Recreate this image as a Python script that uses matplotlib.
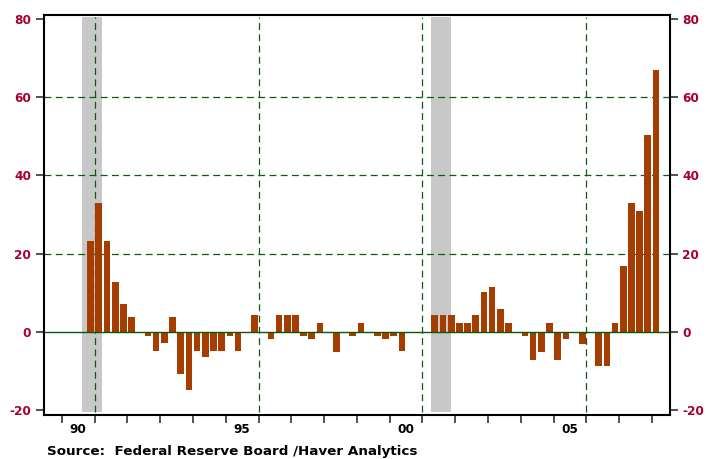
import matplotlib
matplotlib.use("Agg")
import matplotlib.pyplot as plt
import numpy as np

# ---- data ----
quarters = [f"{y}Q{q}" for y in range(1990, 2009) for q in range(1, 5)][:73]
values = [0, 0, 0, 23.2, 33.0, 23.2, 12.7, 7.1,
          3.8, 0, -1.0, -4.9, -2.8, 3.8, -10.8, -14.9,
          -4.9, -6.4, -4.9, -4.9, -1.0, -4.9, 0, 4.3,
          0, -1.8, 4.3, 4.3, 4.3, -1.0, -1.8, 2.2,
          0, -5.1, 0, -1.0, 2.2, 0, -1.0, -1.8,
          -1.0, -4.9, 0, 0, 0, 4.3, 4.3, 4.3,
          2.2, 2.2, 4.3, 10.2, 11.4, 5.8, 2.2, 0,
          -1.0, -7.2, -5.1, 2.2, -7.2, -1.8, 0, -3.1,
          0, -8.7, -8.7, 2.2, 16.8, 33.0, 30.9, 50.4,
          67.0]
recessions = [(1990.61, 1991.22), (2001.26, 2001.86)]
year_ticks = list(range(1990, 2009))
year_labels = {1990: "90", 1995: "95", 2000: "00", 2005: "05"}
vgrid_years = [1991, 1996, 2001, 2006]
y_ticks = [-20, 0, 20, 40, 60, 80]
hgrid = [20, 40, 60]
source = "Source:  Federal Reserve Board /Haver Analytics"

# ---- style ----
bar_color = "#A53C00"
grid_color = "#0E5A12"
label_red = "#A8002E"
shade_color = "#C8C8C8"

x = np.array([int(s[:4]) + (int(s[-1]) - 0.5) / 4 for s in quarters])

fig = plt.figure(figsize=(7.08, 4.59), dpi=100)
ax = fig.add_axes([0.0617, 0.0959, 0.8846, 0.8721])
ax.set_xlim(1989.445, 2008.55)
ax.set_ylim(-21.33, 81.18)

for a, b in recessions:
    ax.fill_between([a, b], -20.6, 80.7, color=shade_color, lw=0, zorder=1)

for yv in hgrid:
    ax.axhline(yv, color=grid_color, lw=0.9, dashes=(5.5, 3.5), zorder=2)
for xv in vgrid_years:
    ax.vlines(xv, -20.6, 80.7, color=grid_color, lw=0.9, linestyles=(0, (5.5, 3.5)), zorder=2)

ax.bar(x, values, width=0.205, color=bar_color, lw=0, zorder=3)
ax.axhline(0, color="#0A5A0A", lw=1.0, zorder=4)

for s in ax.spines.values():
    s.set_linewidth(1.5)
    s.set_color("black")

ax.set_yticks(y_ticks)
ax.set_yticklabels([str(v) for v in y_ticks])
ax.tick_params(axis="y", which="both", left=True, right=True, labelleft=True, labelright=True,
               length=6, width=1.1, pad=3, colors="#222222", labelcolor=label_red,
               labelsize=8.7)
for t in ax.get_yticklabels():
    t.set_fontweight("bold")

ax.set_xticks(year_ticks)
ax.set_xticklabels([])
ax.tick_params(axis="x", which="major", length=6, width=1.1, colors="#222222", direction="out")
ax.set_xticks([y + 0.5 for y in year_labels], minor=True)
ax.set_xticklabels(list(year_labels.values()), minor=True)
ax.tick_params(axis="x", which="minor", length=0, pad=5.5, labelsize=8.7, labelcolor="black")
for t in ax.get_xticklabels(minor=True):
    t.set_fontweight("bold")

fig.text(47 / 708, 1 - 451 / 459, source, fontsize=9.7, fontweight="bold",
         family="DejaVu Sans", va="center", ha="left", color="black")

fig.savefig("out.png", dpi=100)
